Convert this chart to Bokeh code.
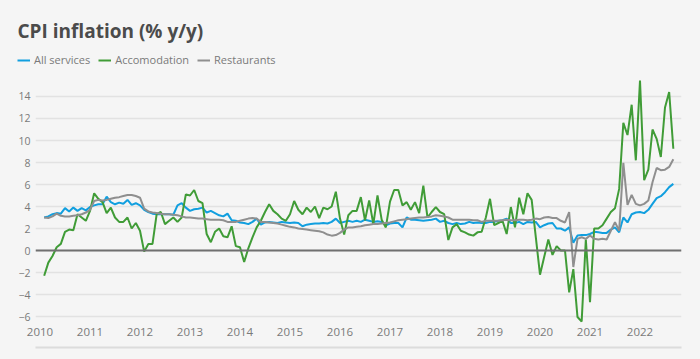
from bokeh.plotting import figure
from bokeh.layouts import column, row
from bokeh.models import (ColumnDataSource, Legend, LegendItem, FixedTicker,
                          Span, LinearAxis, Range1d)
from bokeh.embed import file_html
from bokeh.resources import INLINE

# ---------------- data (monthly, % y/y, from Jan 2010) ----------------
start_year = 2010

all_services = [
    3.0, 3.1, 3.3, 3.4, 3.35, 3.85, 3.55, 3.9, 3.6, 3.85, 3.65, 3.95,
    4.1, 4.2, 4.2, 4.9, 4.4, 4.2, 4.35, 4.25, 4.6, 4.15, 4.3, 4.1,
    3.7, 3.5, 3.35, 3.3, 3.3, 3.3, 3.3, 3.25, 4.1, 4.3, 3.9, 3.6,
    3.75, 3.8, 3.9, 3.45, 3.6, 3.4, 3.2, 3.1, 3.35, 2.75, 2.7, 2.55,
    2.5, 2.4, 2.6, 2.9, 2.35, 2.55, 2.6, 2.55, 2.5, 2.6, 2.55, 2.5,
    2.55, 2.5, 2.2, 2.35, 2.4, 2.45, 2.45, 2.5, 2.45, 2.6, 2.9, 2.5,
    2.6, 2.7, 2.6, 2.7, 2.6, 2.8, 2.7, 2.6, 2.65, 2.6, 2.3, 2.45,
    2.5, 2.5, 2.1, 3.0, 2.8, 2.8, 2.75, 2.7, 2.75, 2.8, 2.9, 2.6,
    2.7, 2.5, 2.4, 2.5, 2.4, 2.45, 2.6, 2.5, 2.55, 2.5, 2.5, 2.6,
    2.6, 2.7, 2.75, 2.9, 2.5, 2.5, 2.6, 2.4, 2.6, 2.55, 2.6, 2.1,
    2.3, 2.45, 2.5, 2.0, 2.0, 1.8, 2.1, 0.7, 1.36, 1.4, 1.4, 1.5,
    1.7, 1.65, 1.6, 1.6, 1.9, 2.1, 1.65, 3.0, 2.55, 3.3, 3.45, 3.5,
    3.4, 3.7, 4.24, 4.76, 4.94, 5.3, 5.76, 6.06,
]

accomodation = [
    -2.3, -1.1, -0.5, 0.3, 0.6, 1.7, 1.9, 1.85, 3.3, 3.0, 2.7, 3.6,
    5.2, 4.7, 4.4, 3.4, 3.9, 3.0, 2.6, 2.6, 3.0, 2.0, 2.5, 1.8,
    -0.1, 0.6, 0.6, 3.3, 3.5, 2.4, 2.7, 3.0, 2.6, 3.0, 5.1, 5.0,
    5.5, 4.5, 4.3, 1.5, 0.75, 1.7, 2.0, 1.3, 1.2, 2.2, 0.4, 0.3,
    -1.05, 0.2, 1.2, 2.1, 2.7, 3.5, 4.2, 3.6, 3.3, 2.9, 2.7, 3.3,
    4.5, 3.7, 3.3, 3.9, 3.5, 4.0, 2.95, 3.9, 3.75, 4.0, 5.35, 2.9,
    1.45, 3.2, 3.6, 3.6, 4.85, 2.75, 4.55, 2.4, 5.0, 2.8, 2.1, 4.45,
    5.5, 5.5, 4.1, 4.4, 3.7, 4.4, 3.4, 5.9, 3.0, 3.5, 3.95, 3.5,
    3.3, 0.95, 2.1, 2.4, 1.8, 1.65, 1.45, 1.35, 1.65, 1.7, 3.0, 4.7,
    2.3, 2.5, 2.7, 1.5, 3.95, 2.1, 4.8, 3.3, 5.2, 4.6, 1.2, -2.2,
    -0.6, 1.0, -0.4, 0.4, 0.0, 0.0, -3.8, -1.7, -6.05, -6.45, 1.0, -4.7,
    2.0, 2.0, 2.3, 2.9, 3.5, 3.85, 5.6, 11.6, 10.5, 13.25, 8.2, 15.45,
    6.4, 7.35, 11.0, 10.15, 8.5, 13.0, 14.4, 9.25,
]

restaurants = [
    3.0, 2.95, 3.1, 3.35, 3.15, 3.1, 3.1, 3.15, 3.2, 3.3, 3.45, 3.7,
    4.5, 4.6, 4.55, 4.6, 4.7, 4.8, 4.85, 4.95, 5.05, 5.05, 4.95, 4.8,
    3.8, 3.55, 3.45, 3.4, 3.35, 3.3, 3.3, 3.25, 3.2, 3.1, 3.0, 3.0,
    2.95, 2.9, 2.9, 2.85, 2.8, 2.8, 2.8, 2.75, 2.6, 2.6, 2.6, 2.7,
    2.8, 2.9, 2.95, 2.9, 2.6, 2.6, 2.55, 2.5, 2.45, 2.35, 2.25, 2.15,
    2.1, 2.0, 1.95, 1.9, 1.85, 1.8, 1.75, 1.65, 1.45, 1.35, 1.4, 1.6,
    1.9, 2.1, 2.1, 2.15, 2.2, 2.3, 2.35, 2.4, 2.4, 2.45, 2.5, 2.55,
    2.65, 2.75, 2.8, 2.85, 2.9, 2.95, 3.0, 3.0, 3.05, 3.1, 3.2, 3.15,
    3.1, 3.0, 2.8, 2.8, 2.8, 2.8, 2.8, 2.75, 2.75, 2.6, 2.7, 2.7,
    2.7, 2.7, 2.75, 2.8, 2.75, 2.75, 2.8, 2.8, 2.75, 2.8, 2.9, 2.85,
    3.0, 3.05, 2.95, 2.95, 2.7, 2.55, 3.5, -1.5, 1.06, 1.2, 1.06, 1.36,
    1.06, 1.0, 1.06, 1.0, 1.8, 2.58, 1.8, 7.97, 4.15, 5.06, 4.24, 4.1,
    4.24, 4.55, 6.2, 7.5, 7.3, 7.35, 7.6, 8.3,
]

series_names = ["All services", "Accomodation", "Restaurants"]
x_ticks = list(range(2010, 2023))
y_ticks = list(range(-6, 15, 2))

# ---------------- styling ----------------
BG = "#f5f5f5"
COLORS = ["#119fdf", "#409c37", "#8f8f8f"]
FONT = "Open Sans"
LABEL_COLOR = "#7a7a7a"

n = len(all_services)
months = [start_year + (i + 1) / 12 for i in range(n)]
src = ColumnDataSource(dict(x=months, a=all_services, b=accomodation, c=restaurants))
cols = ["a", "b", "c"]

# ---------------- header: title + legend ----------------
head = figure(width=700, height=70, output_backend="svg", toolbar_location=None,
              title="CPI inflation (% y/y)", x_axis_type=None, y_axis_type=None,
              x_range=Range1d(2009.91, 2022.83), y_range=Range1d(-6.636, 15.909),
              min_border_left=0, min_border_right=0, min_border_top=45,
              min_border_bottom=0, background_fill_color=BG,
              border_fill_color=BG, outline_line_color=None)
head.grid.visible = False
head.title.text_font = FONT
head.title.text_font_size = "19px"
head.title.text_font_style = "bold"
head.title.text_color = "#4b4b4b"
head.title.offset = 17
head.title.standoff = 4

# legend keys: hidden copies of the series (only their legend swatches show)
keys = []
for col, color in zip(cols, COLORS):
    r = head.line("x", col, source=src, line_color=color, line_width=2)
    r.visible = False
    keys.append(r)
legend = Legend(items=[LegendItem(label=nm, renderers=[r]) for nm, r in zip(series_names, keys)],
                orientation="horizontal", location=(17, 3),
                label_text_font=FONT, label_text_font_size="11px",
                label_text_color=LABEL_COLOR, glyph_width=13, glyph_height=12,
                label_standoff=4, spacing=8, padding=0, margin=0,
                inactive_fill_alpha=0,
                background_fill_alpha=0, border_line_alpha=0)
head.add_layout(legend, "center")

# ---------------- main chart ----------------
p = figure(width=700, height=289, output_backend="svg", toolbar_location=None,
           x_range=Range1d(2009.91, 2022.83), y_range=Range1d(-6.636, 15.909),
           min_border_left=35, min_border_right=19, min_border_top=5,
           min_border_bottom=36, background_fill_color=BG,
           border_fill_color=BG, outline_line_color=None)

p.xgrid.visible = False
p.ygrid.ticker = FixedTicker(ticks=y_ticks)
p.ygrid.grid_line_color = "#e2e2e2"
p.ygrid.grid_line_width = 1.5

p.xaxis.ticker = FixedTicker(ticks=x_ticks)
p.yaxis.ticker = FixedTicker(ticks=y_ticks)
for ax in (p.xaxis[0], p.yaxis[0]):
    ax.axis_line_color = None
    ax.major_tick_line_color = None
    ax.minor_tick_line_color = None
    ax.major_tick_out = 0
    ax.major_tick_in = 0
    ax.minor_tick_out = 0
    ax.major_label_text_font = FONT
    ax.major_label_text_color = LABEL_COLOR
p.xaxis.major_label_text_font_size = "11.5px"
p.yaxis.major_label_text_font_size = "10.5px"
p.xaxis.major_label_standoff = 4
p.yaxis.major_label_standoff = 5
p.xaxis.axis_label = " "
p.xaxis.axis_label_text_font_size = "5px"
p.xaxis.axis_label_standoff = 0

# bottom separator rule
sep = LinearAxis(ticker=FixedTicker(ticks=[2016]), axis_line_color="#dcdcdc",
                 axis_line_width=2, major_tick_line_color=None, major_tick_out=0,
                 major_tick_in=0, minor_tick_line_color=None, minor_tick_out=0,
                 major_label_text_alpha=0, major_label_text_font_size="1px",
                 major_label_standoff=0)
p.add_layout(sep, "below")

# zero line
p.add_layout(Span(location=0, dimension="width", line_color="#707070", line_width=2))

for col, color in zip(cols, COLORS):
    p.line("x", col, source=src, line_color=color, line_width=2)

layout = column(row(head, spacing=0), row(p, spacing=0), spacing=0)
html = file_html(layout, INLINE)
html = html.replace("</head>", "<style>html,body{background:%s;}</style></head>" % BG, 1)
open("out.html", "w").write(html)
